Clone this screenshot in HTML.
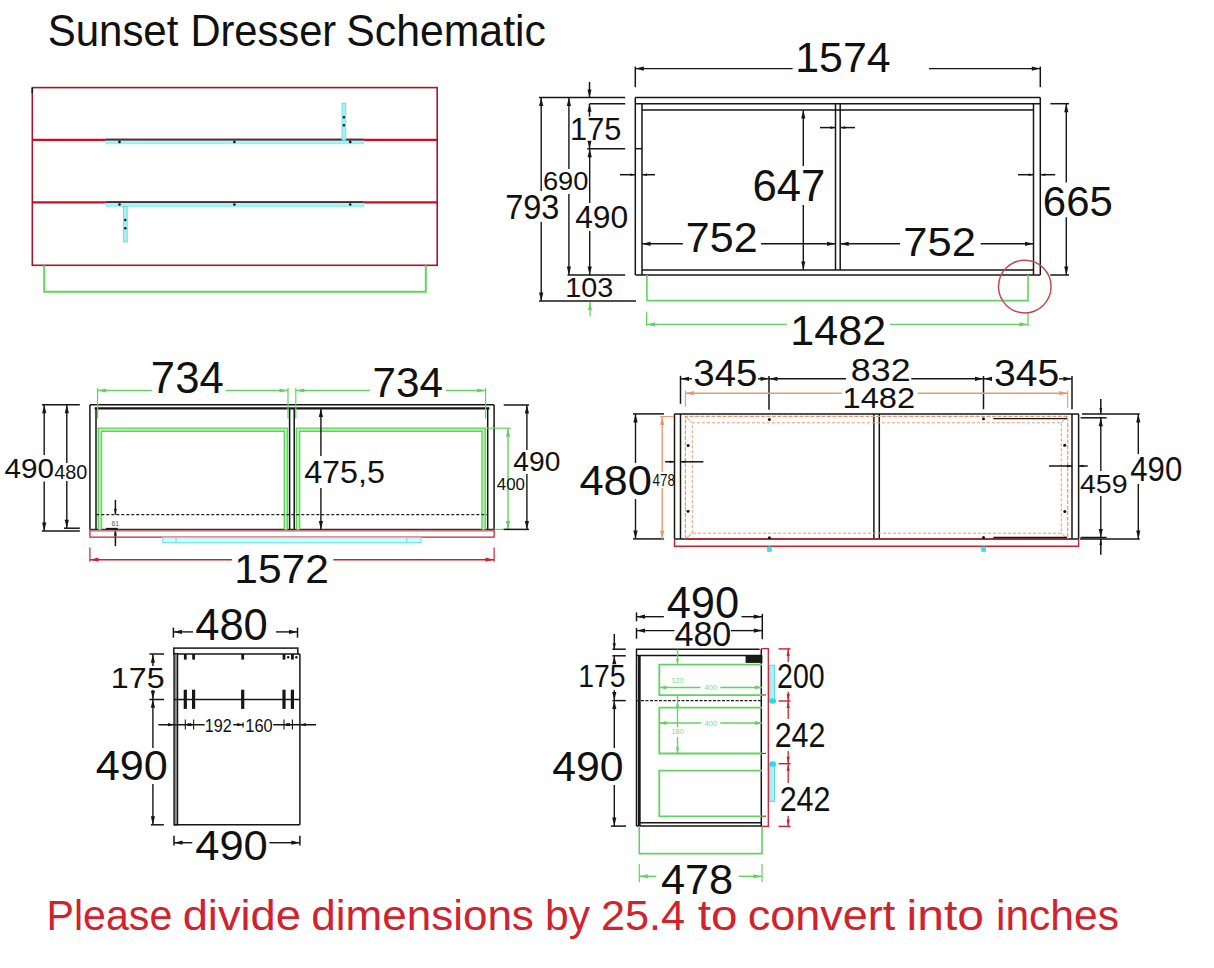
<!DOCTYPE html>
<html><head><meta charset="utf-8"><style>
html,body{margin:0;padding:0;background:#fff;width:1214px;height:968px;overflow:hidden}
svg{display:block}
text{font-family:"Liberation Sans",sans-serif;font-kerning:none}
</style></head><body>
<svg width="1214" height="968" viewBox="0 0 1214 968">
<rect width="1214" height="968" fill="#fff"/>
<text x="47.69" y="46.30" font-size="43.75" textLength="130.71" lengthAdjust="spacingAndGlyphs" fill="#111">Sunset</text>
<text x="190.38" y="46.30" font-size="43.75" textLength="145.81" lengthAdjust="spacingAndGlyphs" fill="#111">Dresser</text>
<text x="346.26" y="46.30" font-size="43.75" textLength="199.67" lengthAdjust="spacingAndGlyphs" fill="#111">Schematic</text>
<text x="46.52" y="930.00" font-size="42.01" textLength="125.80" lengthAdjust="spacingAndGlyphs" fill="#d0232e">Please</text>
<text x="182.70" y="930.00" font-size="42.01" textLength="118.31" lengthAdjust="spacingAndGlyphs" fill="#d0232e">divide</text>
<text x="311.35" y="930.00" font-size="42.01" textLength="222.54" lengthAdjust="spacingAndGlyphs" fill="#d0232e">dimensions</text>
<text x="545.05" y="930.00" font-size="42.01" textLength="45.03" lengthAdjust="spacingAndGlyphs" fill="#d0232e">by</text>
<text x="600.92" y="930.00" font-size="42.01" textLength="84.25" lengthAdjust="spacingAndGlyphs" fill="#d0232e">25.4</text>
<text x="697.78" y="930.00" font-size="42.01" textLength="39.83" lengthAdjust="spacingAndGlyphs" fill="#d0232e">to</text>
<text x="747.79" y="930.00" font-size="42.01" textLength="147.54" lengthAdjust="spacingAndGlyphs" fill="#d0232e">convert</text>
<text x="906.59" y="930.00" font-size="42.01" textLength="77.43" lengthAdjust="spacingAndGlyphs" fill="#d0232e">into</text>
<text x="995.95" y="930.00" font-size="42.01" textLength="122.98" lengthAdjust="spacingAndGlyphs" fill="#d0232e">inches</text>
<rect x="32.3" y="87.6" width="404.9" height="177.7" stroke="#a3172b" stroke-width="1.6" fill="none"/>
<line x1="32.3" y1="139.8" x2="437.2" y2="139.8" stroke="#c80f2a" stroke-width="2.2"/>
<line x1="32.3" y1="202.3" x2="437.2" y2="202.3" stroke="#c80f2a" stroke-width="2.2"/>
<path d="M44.2,265.3 V291.7 H425.8 V265.3" stroke="#62d262" stroke-width="2" fill="none" />
<rect x="106" y="140.2" width="257.6" height="3.6" stroke="#7ee8ee" stroke-width="0.8" fill="#a6f6f6"/>
<line x1="106" y1="139.6" x2="363.6" y2="139.6" stroke="#4a2e30" stroke-width="1.6"/>
<rect x="106" y="202.7" width="257.6" height="3.6" stroke="#7ee8ee" stroke-width="0.8" fill="#a6f6f6"/>
<line x1="106" y1="202.1" x2="363.6" y2="202.1" stroke="#4a2e30" stroke-width="1.6"/>
<rect x="342" y="103.2" width="3.8" height="37" stroke="#5fd8e0" stroke-width="0.8" fill="#a9f1f4"/>
<rect x="123.4" y="206.3" width="3.8" height="35.8" stroke="#5fd8e0" stroke-width="0.8" fill="#a9f1f4"/>
<circle cx="119.5" cy="141.9" r="1.3" fill="#111"/>
<circle cx="234.4" cy="141.9" r="1.3" fill="#111"/>
<circle cx="350.2" cy="141.9" r="1.3" fill="#111"/>
<circle cx="119.5" cy="204.5" r="1.3" fill="#111"/>
<circle cx="234.4" cy="204.5" r="1.3" fill="#111"/>
<circle cx="350.2" cy="204.5" r="1.3" fill="#111"/>
<circle cx="343.9" cy="117.3" r="1.2" fill="#111"/>
<circle cx="343.9" cy="125.3" r="1.2" fill="#111"/>
<circle cx="125.3" cy="220" r="1.2" fill="#111"/>
<circle cx="125.3" cy="228.3" r="1.2" fill="#111"/>
<line x1="32.3" y1="88" x2="32.3" y2="93" stroke="#161616" stroke-width="1.5"/>
<line x1="635.3" y1="97.5" x2="1040.3" y2="97.5" stroke="#161616" stroke-width="1.5"/>
<line x1="635.3" y1="103.7" x2="1040.3" y2="103.7" stroke="#161616" stroke-width="1.5"/>
<line x1="635.3" y1="97.5" x2="635.3" y2="275" stroke="#161616" stroke-width="1.5"/>
<line x1="1040.3" y1="97.5" x2="1040.3" y2="275" stroke="#161616" stroke-width="1.5"/>
<line x1="642" y1="110.1" x2="1033.5" y2="110.1" stroke="#161616" stroke-width="1.5"/>
<line x1="642" y1="103.7" x2="642" y2="275" stroke="#161616" stroke-width="1.5"/>
<line x1="1033.5" y1="103.7" x2="1033.5" y2="275" stroke="#161616" stroke-width="1.5"/>
<line x1="642" y1="270.1" x2="1033.5" y2="270.1" stroke="#161616" stroke-width="1.5"/>
<line x1="635.3" y1="275" x2="1040.3" y2="275" stroke="#161616" stroke-width="1.5"/>
<line x1="835.5" y1="103.7" x2="835.5" y2="270.1" stroke="#161616" stroke-width="1.5"/>
<line x1="840.2" y1="103.7" x2="840.2" y2="270.1" stroke="#161616" stroke-width="1.5"/>
<line x1="635.3" y1="148.7" x2="642" y2="148.7" stroke="#161616" stroke-width="1.5"/>
<line x1="635.3" y1="66.6" x2="635.3" y2="87.2" stroke="#161616" stroke-width="1.5"/>
<line x1="1040.3" y1="66.6" x2="1040.3" y2="87.2" stroke="#161616" stroke-width="1.5"/>
<line x1="635.3" y1="68.6" x2="792.6" y2="68.6" stroke="#161616" stroke-width="1.4"/>
<line x1="929" y1="68.6" x2="1040.3" y2="68.6" stroke="#161616" stroke-width="1.4"/>
<polygon points="635.30,68.60 643.80,66.50 643.80,70.70" fill="#161616"/>
<polygon points="1040.30,68.60 1031.80,66.50 1031.80,70.70" fill="#161616"/>
<text x="795.23" y="72.28" font-size="43.14" textLength="95.42" lengthAdjust="spacingAndGlyphs" fill="#111">1574</text>
<line x1="539" y1="97.5" x2="625.2" y2="97.5" stroke="#161616" stroke-width="1.5"/>
<line x1="589.7" y1="103.7" x2="625.2" y2="103.7" stroke="#161616" stroke-width="1.5"/>
<line x1="587.2" y1="148.7" x2="625.2" y2="148.7" stroke="#161616" stroke-width="1.5"/>
<line x1="567.5" y1="275" x2="625.2" y2="275" stroke="#161616" stroke-width="1.5"/>
<line x1="539" y1="301" x2="636" y2="301" stroke="#161616" stroke-width="1.5"/>
<line x1="541.2" y1="97.5" x2="541.2" y2="191" stroke="#161616" stroke-width="1.4"/>
<line x1="541.2" y1="222" x2="541.2" y2="301" stroke="#161616" stroke-width="1.4"/>
<polygon points="541.20,97.50 539.10,106.00 543.30,106.00" fill="#161616"/>
<polygon points="541.20,301.00 539.10,292.50 543.30,292.50" fill="#161616"/>
<text x="505.13" y="218.66" font-size="35.03" textLength="54.30" lengthAdjust="spacingAndGlyphs" fill="#111">793</text>
<line x1="568.9" y1="97.5" x2="568.9" y2="169" stroke="#161616" stroke-width="1.4"/>
<line x1="568.9" y1="194" x2="568.9" y2="275" stroke="#161616" stroke-width="1.4"/>
<polygon points="568.90,97.50 566.80,106.00 571.00,106.00" fill="#161616"/>
<polygon points="568.90,275.00 566.80,266.50 571.00,266.50" fill="#161616"/>
<text x="542.91" y="190.14" font-size="26.27" textLength="45.55" lengthAdjust="spacingAndGlyphs" fill="#111">690</text>
<line x1="589.5" y1="82" x2="589.5" y2="97.5" stroke="#161616" stroke-width="1.5"/>
<polygon points="589.50,97.50 587.50,89.50 591.50,89.50" fill="#161616"/>
<polygon points="589.50,103.70 587.50,111.70 591.50,111.70" fill="#161616"/>
<line x1="589.5" y1="103.7" x2="589.5" y2="116.6" stroke="#161616" stroke-width="1.5"/>
<line x1="589.5" y1="142.3" x2="589.5" y2="148.7" stroke="#161616" stroke-width="1.5"/>
<polygon points="589.50,148.70 587.50,140.70 591.50,140.70" fill="#161616"/>
<text x="570.06" y="139.80" font-size="30.67" textLength="51.34" lengthAdjust="spacingAndGlyphs" fill="#111">175</text>
<line x1="589.7" y1="148.7" x2="589.7" y2="203" stroke="#161616" stroke-width="1.4"/>
<line x1="589.7" y1="231" x2="589.7" y2="275" stroke="#161616" stroke-width="1.4"/>
<polygon points="589.70,148.70 587.60,157.20 591.80,157.20" fill="#161616"/>
<polygon points="589.70,275.00 587.60,266.50 591.80,266.50" fill="#161616"/>
<text x="575.17" y="227.99" font-size="31.50" textLength="53.07" lengthAdjust="spacingAndGlyphs" fill="#111">490</text>
<text x="565.31" y="296.74" font-size="26.84" textLength="47.95" lengthAdjust="spacingAndGlyphs" fill="#111">103</text>
<line x1="590" y1="302" x2="590" y2="316.6" stroke="#62d262" stroke-width="1.3"/>
<polygon points="590.00,302.00 588.00,310.00 592.00,310.00" fill="#62d262"/>
<line x1="803.3" y1="110.1" x2="803.3" y2="166" stroke="#161616" stroke-width="1.4"/>
<line x1="803.3" y1="205" x2="803.3" y2="270.1" stroke="#161616" stroke-width="1.4"/>
<polygon points="803.30,110.10 801.20,118.60 805.40,118.60" fill="#161616"/>
<polygon points="803.30,270.10 801.20,261.60 805.40,261.60" fill="#161616"/>
<text x="752.48" y="201.27" font-size="43.64" textLength="72.81" lengthAdjust="spacingAndGlyphs" fill="#111">647</text>
<line x1="642" y1="243.8" x2="682.8" y2="243.8" stroke="#161616" stroke-width="1.4"/>
<line x1="761" y1="243.8" x2="835.5" y2="243.8" stroke="#161616" stroke-width="1.4"/>
<polygon points="642.00,243.80 650.50,241.70 650.50,245.90" fill="#161616"/>
<polygon points="835.50,243.80 827.00,241.70 827.00,245.90" fill="#161616"/>
<text x="685.79" y="251.88" font-size="42.80" textLength="71.77" lengthAdjust="spacingAndGlyphs" fill="#111">752</text>
<line x1="840.2" y1="243.8" x2="900" y2="243.8" stroke="#161616" stroke-width="1.4"/>
<line x1="980.8" y1="243.8" x2="1033.5" y2="243.8" stroke="#161616" stroke-width="1.4"/>
<polygon points="840.20,243.80 848.70,241.70 848.70,245.90" fill="#161616"/>
<polygon points="1033.50,243.80 1025.00,241.70 1025.00,245.90" fill="#161616"/>
<text x="903.27" y="255.79" font-size="41.52" textLength="72.62" lengthAdjust="spacingAndGlyphs" fill="#111">752</text>
<line x1="1050.4" y1="103.7" x2="1069" y2="103.7" stroke="#161616" stroke-width="1.5"/>
<line x1="1050.3" y1="275" x2="1069" y2="275" stroke="#161616" stroke-width="1.5"/>
<line x1="1066.3" y1="103.7" x2="1066.3" y2="182.4" stroke="#161616" stroke-width="1.4"/>
<line x1="1066.3" y1="217.2" x2="1066.3" y2="275" stroke="#161616" stroke-width="1.4"/>
<polygon points="1066.30,103.70 1064.20,112.20 1068.40,112.20" fill="#161616"/>
<polygon points="1066.30,275.00 1064.20,266.50 1068.40,266.50" fill="#161616"/>
<text x="1042.87" y="215.59" font-size="41.67" textLength="69.89" lengthAdjust="spacingAndGlyphs" fill="#111">665</text>
<line x1="620" y1="174.7" x2="635.3" y2="174.7" stroke="#161616" stroke-width="1.5"/>
<polygon points="635.30,174.70 630.30,173.40 630.30,176.00" fill="#161616"/>
<line x1="642" y1="174.7" x2="655" y2="174.7" stroke="#161616" stroke-width="1.5"/>
<polygon points="642.00,174.70 647.00,173.40 647.00,176.00" fill="#161616"/>
<line x1="820" y1="127.6" x2="835.5" y2="127.6" stroke="#161616" stroke-width="1.5"/>
<polygon points="835.50,127.60 830.50,126.30 830.50,128.90" fill="#161616"/>
<line x1="840.2" y1="127.6" x2="855" y2="127.6" stroke="#161616" stroke-width="1.5"/>
<polygon points="840.20,127.60 845.20,126.30 845.20,128.90" fill="#161616"/>
<line x1="1018" y1="174.7" x2="1033.5" y2="174.7" stroke="#161616" stroke-width="1.5"/>
<polygon points="1033.50,174.70 1028.50,173.40 1028.50,176.00" fill="#161616"/>
<line x1="1040.3" y1="174.7" x2="1055.2" y2="174.7" stroke="#161616" stroke-width="1.5"/>
<polygon points="1040.30,174.70 1045.30,173.40 1045.30,176.00" fill="#161616"/>
<path d="M646.9,275 V300.6 H1028 V275" stroke="#62d262" stroke-width="1.6" fill="none" />
<line x1="646.6" y1="312" x2="646.6" y2="326" stroke="#62d262" stroke-width="1.3"/>
<line x1="1028" y1="312.6" x2="1028" y2="326" stroke="#62d262" stroke-width="1.3"/>
<line x1="646.6" y1="324.4" x2="787" y2="324.4" stroke="#62d262" stroke-width="1.4"/>
<line x1="890" y1="324.4" x2="1028" y2="324.4" stroke="#62d262" stroke-width="1.4"/>
<polygon points="646.60,324.40 655.10,322.30 655.10,326.50" fill="#62d262"/>
<polygon points="1028.00,324.40 1019.50,322.30 1019.50,326.50" fill="#62d262"/>
<text x="790.21" y="345.08" font-size="43.36" textLength="95.95" lengthAdjust="spacingAndGlyphs" fill="#111">1482</text>
<circle cx="1024.8" cy="286.6" r="26.3" fill="none" stroke="#c04a52" stroke-width="1.5"/>
<line x1="89.9" y1="404.8" x2="494.1" y2="404.8" stroke="#161616" stroke-width="1.5"/>
<line x1="94.6" y1="408.4" x2="489.4" y2="408.4" stroke="#161616" stroke-width="2.2"/>
<line x1="89.9" y1="405" x2="89.9" y2="529.4" stroke="#161616" stroke-width="1.5"/>
<line x1="494.1" y1="405" x2="494.1" y2="529.4" stroke="#161616" stroke-width="1.5"/>
<line x1="487.7" y1="408.6" x2="487.7" y2="529.4" stroke="#161616" stroke-width="1.5"/>
<line x1="289.6" y1="408.6" x2="289.6" y2="529.4" stroke="#161616" stroke-width="1.5"/>
<line x1="294.2" y1="408.6" x2="294.2" y2="529.4" stroke="#161616" stroke-width="1.5"/>
<line x1="89.9" y1="529.4" x2="494.1" y2="529.4" stroke="#3a2a2a" stroke-width="1.5"/>
<line x1="96" y1="408.6" x2="96" y2="529.4" stroke="#161616" stroke-width="1.5"/>
<path d="M99.9,529.4 V429.7 H285.9 V529.4" stroke="#62d262" stroke-width="4.6" fill="none" stroke-linejoin="miter"/>
<path d="M99.9,529.4 V429.7 H285.9 V529.4" stroke="#b8f7b0" stroke-width="1.8" fill="none" stroke-linejoin="miter"/>
<path d="M298,529.4 V429.7 H483.6 V529.4" stroke="#62d262" stroke-width="4.6" fill="none" stroke-linejoin="miter"/>
<path d="M298,529.4 V429.7 H483.6 V529.4" stroke="#b8f7b0" stroke-width="1.8" fill="none" stroke-linejoin="miter"/>
<line x1="96.3" y1="514.7" x2="487" y2="514.7" stroke="#222" stroke-width="1.2" stroke-dasharray="3,2"/>
<line x1="97.6" y1="388" x2="97.6" y2="418.4" stroke="#62d262" stroke-width="1.2"/>
<line x1="288" y1="388" x2="288" y2="418.4" stroke="#62d262" stroke-width="1.2"/>
<line x1="97.6" y1="390.5" x2="152" y2="390.5" stroke="#62d262" stroke-width="1.4"/>
<line x1="226" y1="390.5" x2="288" y2="390.5" stroke="#62d262" stroke-width="1.4"/>
<polygon points="97.60,390.50 106.10,388.40 106.10,392.60" fill="#62d262"/>
<polygon points="288.00,390.50 279.50,388.40 279.50,392.60" fill="#62d262"/>
<text x="150.86" y="393.47" font-size="43.93" textLength="72.82" lengthAdjust="spacingAndGlyphs" fill="#111">734</text>
<line x1="295.8" y1="388" x2="295.8" y2="418.4" stroke="#62d262" stroke-width="1.2"/>
<line x1="485.6" y1="388" x2="485.6" y2="418.4" stroke="#62d262" stroke-width="1.2"/>
<line x1="295.8" y1="390.5" x2="370" y2="390.5" stroke="#62d262" stroke-width="1.4"/>
<line x1="446" y1="390.5" x2="485.6" y2="390.5" stroke="#62d262" stroke-width="1.4"/>
<polygon points="295.80,390.50 304.30,388.40 304.30,392.60" fill="#62d262"/>
<polygon points="485.60,390.50 477.10,388.40 477.10,392.60" fill="#62d262"/>
<text x="372.43" y="397.39" font-size="42.09" textLength="70.50" lengthAdjust="spacingAndGlyphs" fill="#111">734</text>
<line x1="41.9" y1="404.8" x2="79.8" y2="404.8" stroke="#161616" stroke-width="1.5"/>
<line x1="41.9" y1="531" x2="79.8" y2="531" stroke="#161616" stroke-width="1.5"/>
<line x1="64" y1="528.2" x2="79.8" y2="528.2" stroke="#161616" stroke-width="1.5"/>
<line x1="44.2" y1="404.8" x2="44.2" y2="455" stroke="#161616" stroke-width="1.4"/>
<line x1="44.2" y1="481.5" x2="44.2" y2="531" stroke="#161616" stroke-width="1.4"/>
<polygon points="44.20,404.80 42.10,413.30 46.30,413.30" fill="#161616"/>
<polygon points="44.20,531.00 42.10,522.50 46.30,522.50" fill="#161616"/>
<text x="4.52" y="478.33" font-size="27.68" textLength="49.54" lengthAdjust="spacingAndGlyphs" fill="#111">490</text>
<line x1="66.8" y1="404.8" x2="66.8" y2="463" stroke="#161616" stroke-width="1.4"/>
<line x1="66.8" y1="481" x2="66.8" y2="528.2" stroke="#161616" stroke-width="1.4"/>
<polygon points="66.80,404.80 64.70,413.30 68.90,413.30" fill="#161616"/>
<polygon points="66.80,528.20 64.70,519.70 68.90,519.70" fill="#161616"/>
<text x="54.25" y="478.91" font-size="19.35" textLength="33.03" lengthAdjust="spacingAndGlyphs" fill="#111">480</text>
<line x1="320.9" y1="408.6" x2="320.9" y2="456" stroke="#161616" stroke-width="1.4"/>
<line x1="320.9" y1="488" x2="320.9" y2="529.4" stroke="#161616" stroke-width="1.4"/>
<polygon points="320.90,408.60 318.80,417.10 323.00,417.10" fill="#161616"/>
<polygon points="320.90,529.40 318.80,520.90 323.00,520.90" fill="#161616"/>
<text x="304.16" y="482.69" font-size="31.53" textLength="80.80" lengthAdjust="spacingAndGlyphs" fill="#111">475,5</text>
<line x1="486.4" y1="428.2" x2="510.6" y2="428.2" stroke="#62d262" stroke-width="1.2"/>
<line x1="494.1" y1="529.4" x2="510.6" y2="529.4" stroke="#62d262" stroke-width="1.2"/>
<line x1="508" y1="428.2" x2="508" y2="529.4" stroke="#62d262" stroke-width="1.4"/>
<polygon points="508.00,428.20 505.90,436.70 510.10,436.70" fill="#62d262"/>
<polygon points="508.00,529.40 505.90,520.90 510.10,520.90" fill="#62d262"/>
<text x="496.81" y="490.04" font-size="16.81" textLength="28.15" lengthAdjust="spacingAndGlyphs" fill="#111">400</text>
<line x1="503.7" y1="405" x2="529" y2="405" stroke="#161616" stroke-width="1.5"/>
<line x1="503.7" y1="529.4" x2="529" y2="529.4" stroke="#161616" stroke-width="1.5"/>
<line x1="526.9" y1="405" x2="526.9" y2="450" stroke="#161616" stroke-width="1.4"/>
<line x1="526.9" y1="474" x2="526.9" y2="529.4" stroke="#161616" stroke-width="1.4"/>
<polygon points="526.90,405.00 524.80,413.50 529.00,413.50" fill="#161616"/>
<polygon points="526.90,529.40 524.80,520.90 529.00,520.90" fill="#161616"/>
<text x="513.35" y="471.13" font-size="27.40" textLength="46.94" lengthAdjust="spacingAndGlyphs" fill="#111">490</text>
<line x1="115.4" y1="499.8" x2="115.4" y2="514.7" stroke="#161616" stroke-width="1.5"/>
<polygon points="115.40,514.70 114.00,508.70 116.80,508.70" fill="#161616"/>
<line x1="115.4" y1="529.4" x2="115.4" y2="546.2" stroke="#161616" stroke-width="1.5"/>
<polygon points="115.40,529.40 114.00,535.40 116.80,535.40" fill="#161616"/>
<line x1="106" y1="528.6" x2="117.8" y2="528.6" stroke="#161616" stroke-width="1.5"/>
<text x="111.55" y="525.73" font-size="6.78" textLength="7.58" lengthAdjust="spacingAndGlyphs" fill="#555">61</text>
<path d="M89.9,529.4 V537.2 H494.1 V529.4" stroke="#c42434" stroke-width="1.3" fill="none" />
<line x1="89.9" y1="547.5" x2="89.9" y2="561.7" stroke="#c42434" stroke-width="1.2"/>
<line x1="494.1" y1="547.5" x2="494.1" y2="561.7" stroke="#c42434" stroke-width="1.2"/>
<line x1="89.9" y1="559.7" x2="232" y2="559.7" stroke="#c42434" stroke-width="1.4"/>
<line x1="333.3" y1="559.7" x2="494.1" y2="559.7" stroke="#c42434" stroke-width="1.4"/>
<polygon points="89.90,559.70 98.40,557.60 98.40,561.80" fill="#c42434"/>
<polygon points="494.10,559.70 485.60,557.60 485.60,561.80" fill="#c42434"/>
<text x="234.26" y="583.31" font-size="40.11" textLength="94.68" lengthAdjust="spacingAndGlyphs" fill="#111">1572</text>
<line x1="89.9" y1="530.8" x2="494.1" y2="530.8" stroke="#c0606a" stroke-width="1.3"/>
<rect x="162.7" y="537.6" width="258.3" height="5" stroke="#72e4ea" stroke-width="1.2" fill="#d8fafa"/>
<line x1="176" y1="537.4" x2="176" y2="542" stroke="#5fd8e0" stroke-width="0.9"/>
<line x1="406.8" y1="537.4" x2="406.8" y2="542" stroke="#5fd8e0" stroke-width="0.9"/>
<line x1="674.5" y1="413.9" x2="1078.6" y2="413.9" stroke="#161616" stroke-width="1.5"/>
<line x1="674.5" y1="538.9" x2="1078.6" y2="538.9" stroke="#161616" stroke-width="1.5"/>
<line x1="674.5" y1="413.9" x2="674.5" y2="538.9" stroke="#161616" stroke-width="1.5"/>
<line x1="1078.6" y1="413.9" x2="1078.6" y2="538.9" stroke="#161616" stroke-width="1.5"/>
<line x1="680.5" y1="413.9" x2="680.5" y2="538.9" stroke="#161616" stroke-width="1.5"/>
<line x1="1072" y1="413.9" x2="1072" y2="538.9" stroke="#161616" stroke-width="1.5"/>
<line x1="873.9" y1="413.9" x2="873.9" y2="538.9" stroke="#161616" stroke-width="1.5"/>
<line x1="879.3" y1="413.9" x2="879.3" y2="538.9" stroke="#161616" stroke-width="1.5"/>
<path d="M674.5,538.9 V546.2 H1078.6 V538.9" stroke="#c42434" stroke-width="1.4" fill="none" />
<path d="M685.4,538.9 V416.4 H1067.7 V538.9" stroke="#e49a70" stroke-width="1.2" fill="none" stroke-dasharray="4,1.5"/>
<path d="M692.3,533.2 V422.8 H1061.3 V533.2 H692.3" stroke="#e49a70" stroke-width="1" fill="none" stroke-dasharray="3,2"/>
<path d="M685.4,416.4 L692.3,422.8 M1067.7,416.4 L1061.3,422.8 M685.4,538.9 L692.3,533.2 M1067.7,538.9 L1061.3,533.2" stroke="#e49a70" stroke-width="1" fill="none" />
<line x1="685.4" y1="538.9" x2="1067.7" y2="538.9" stroke="#c42434" stroke-width="1.2"/>
<circle cx="769.4" cy="419.6" r="1.5" fill="#111"/>
<circle cx="769.4" cy="537.7" r="1.5" fill="#111"/>
<circle cx="688.1" cy="445.5" r="1.5" fill="#111"/>
<circle cx="688.1" cy="511.2" r="1.5" fill="#111"/>
<circle cx="983.5" cy="418.7" r="1.5" fill="#111"/>
<circle cx="983.5" cy="537.5" r="1.5" fill="#111"/>
<circle cx="1064.8" cy="445.2" r="1.5" fill="#111"/>
<circle cx="1064.8" cy="511.5" r="1.5" fill="#111"/>
<line x1="993.3" y1="418.7" x2="1067" y2="418.7" stroke="#161616" stroke-width="1.3"/>
<line x1="993.3" y1="537.5" x2="1067" y2="537.5" stroke="#161616" stroke-width="1.3"/>
<rect x="766.9" y="546.5" width="5" height="5.5" rx="1.5" fill="#3fe0ef"/>
<rect x="981.0" y="546.5" width="5" height="5.5" rx="1.5" fill="#3fe0ef"/>
<line x1="680.5" y1="375.8" x2="680.5" y2="403.8" stroke="#161616" stroke-width="1.5"/>
<line x1="769" y1="376" x2="769" y2="409.7" stroke="#161616" stroke-width="1.5"/>
<line x1="983.5" y1="376" x2="983.5" y2="409.2" stroke="#161616" stroke-width="1.5"/>
<line x1="1072" y1="376" x2="1072" y2="409.2" stroke="#161616" stroke-width="1.5"/>
<line x1="680.5" y1="378.8" x2="692" y2="378.8" stroke="#161616" stroke-width="1.4"/>
<line x1="758" y1="378.8" x2="769" y2="378.8" stroke="#161616" stroke-width="1.4"/>
<polygon points="680.50,378.80 689.00,376.70 689.00,380.90" fill="#161616"/>
<polygon points="769.00,378.80 760.50,376.70 760.50,380.90" fill="#161616"/>
<text x="693.34" y="386.14" font-size="37.01" textLength="64.08" lengthAdjust="spacingAndGlyphs" fill="#111">345</text>
<line x1="769" y1="378.8" x2="846" y2="378.8" stroke="#161616" stroke-width="1.4"/>
<line x1="911.3" y1="378.8" x2="983.5" y2="378.8" stroke="#161616" stroke-width="1.4"/>
<polygon points="769.00,378.80 777.50,376.70 777.50,380.90" fill="#161616"/>
<polygon points="983.50,378.80 975.00,376.70 975.00,380.90" fill="#161616"/>
<text x="850.84" y="381.00" font-size="31.07" textLength="59.76" lengthAdjust="spacingAndGlyphs" fill="#111">832</text>
<line x1="983.5" y1="378.8" x2="992" y2="378.8" stroke="#161616" stroke-width="1.4"/>
<line x1="1059" y1="378.8" x2="1072" y2="378.8" stroke="#161616" stroke-width="1.4"/>
<polygon points="983.50,378.80 992.00,376.70 992.00,380.90" fill="#161616"/>
<polygon points="1072.00,378.80 1063.50,376.70 1063.50,380.90" fill="#161616"/>
<text x="994.11" y="385.74" font-size="36.58" textLength="65.13" lengthAdjust="spacingAndGlyphs" fill="#111">345</text>
<line x1="685.4" y1="390.7" x2="685.4" y2="406.7" stroke="#e49a70" stroke-width="1.1"/>
<line x1="1067.7" y1="390.7" x2="1067.7" y2="407.7" stroke="#e49a70" stroke-width="1.1"/>
<line x1="685.4" y1="393.2" x2="841.7" y2="393.2" stroke="#e49a70" stroke-width="1.4"/>
<line x1="917.8" y1="393.2" x2="1067.7" y2="393.2" stroke="#e49a70" stroke-width="1.4"/>
<polygon points="685.40,393.20 693.90,391.10 693.90,395.30" fill="#e49a70"/>
<polygon points="1067.70,393.20 1059.20,391.10 1059.20,395.30" fill="#e49a70"/>
<text x="842.51" y="407.80" font-size="30.23" textLength="72.63" lengthAdjust="spacingAndGlyphs" fill="#111">1482</text>
<line x1="633" y1="413.9" x2="663.9" y2="413.9" stroke="#161616" stroke-width="1.5"/>
<line x1="633" y1="538.9" x2="663.9" y2="538.9" stroke="#161616" stroke-width="1.5"/>
<line x1="635.5" y1="413.9" x2="635.5" y2="463" stroke="#161616" stroke-width="1.4"/>
<line x1="635.5" y1="499" x2="635.5" y2="538.9" stroke="#161616" stroke-width="1.4"/>
<polygon points="635.50,413.90 633.40,422.40 637.60,422.40" fill="#161616"/>
<polygon points="635.50,538.90 633.40,530.40 637.60,530.40" fill="#161616"/>
<text x="579.40" y="495.29" font-size="41.95" textLength="72.60" lengthAdjust="spacingAndGlyphs" fill="#111">480</text>
<line x1="660" y1="416.6" x2="673.8" y2="416.6" stroke="#e49a70" stroke-width="1.1"/>
<line x1="662.2" y1="416.6" x2="662.2" y2="472" stroke="#e49a70" stroke-width="1.4"/>
<line x1="662.2" y1="488" x2="662.2" y2="538.9" stroke="#e49a70" stroke-width="1.4"/>
<polygon points="662.20,416.60 660.10,425.10 664.30,425.10" fill="#e49a70"/>
<polygon points="662.20,538.90 660.10,530.40 664.30,530.40" fill="#e49a70"/>
<text x="652.49" y="486.14" font-size="16.38" textLength="22.39" lengthAdjust="spacingAndGlyphs" fill="#111">478</text>
<line x1="665" y1="461.8" x2="674.5" y2="461.8" stroke="#161616" stroke-width="1.5"/>
<polygon points="674.50,461.80 669.50,460.50 669.50,463.10" fill="#161616"/>
<line x1="680.5" y1="461.8" x2="703.4" y2="461.8" stroke="#161616" stroke-width="1.5"/>
<polygon points="680.50,461.80 685.50,460.50 685.50,463.10" fill="#161616"/>
<line x1="1049" y1="466" x2="1072" y2="466" stroke="#161616" stroke-width="1.5"/>
<polygon points="1072.00,466.00 1067.00,464.70 1067.00,467.30" fill="#161616"/>
<line x1="1078.6" y1="466" x2="1087.8" y2="466" stroke="#161616" stroke-width="1.5"/>
<polygon points="1078.60,466.00 1083.60,464.70 1083.60,467.30" fill="#161616"/>
<line x1="1082" y1="413.9" x2="1139.7" y2="413.9" stroke="#161616" stroke-width="1.5"/>
<line x1="1080.6" y1="417.8" x2="1106.6" y2="417.8" stroke="#161616" stroke-width="1.5"/>
<line x1="1080" y1="538.9" x2="1139.7" y2="538.9" stroke="#161616" stroke-width="1.5"/>
<line x1="1080.6" y1="537.5" x2="1106.6" y2="537.5" stroke="#161616" stroke-width="1.5"/>
<line x1="1100.8" y1="417.8" x2="1100.8" y2="471" stroke="#161616" stroke-width="1.4"/>
<line x1="1100.8" y1="496" x2="1100.8" y2="537.5" stroke="#161616" stroke-width="1.4"/>
<polygon points="1100.80,417.80 1098.70,426.30 1102.90,426.30" fill="#161616"/>
<polygon points="1100.80,537.50 1098.70,529.00 1102.90,529.00" fill="#161616"/>
<line x1="1100.8" y1="399" x2="1100.8" y2="413.9" stroke="#161616" stroke-width="1.5"/>
<polygon points="1100.80,413.90 1099.40,407.90 1102.20,407.90" fill="#161616"/>
<line x1="1100.8" y1="538.9" x2="1100.8" y2="554.8" stroke="#161616" stroke-width="1.5"/>
<polygon points="1100.80,538.90 1099.40,544.90 1102.20,544.90" fill="#161616"/>
<text x="1079.95" y="492.54" font-size="26.55" textLength="47.61" lengthAdjust="spacingAndGlyphs" fill="#111">459</text>
<line x1="1138.3" y1="413.9" x2="1138.3" y2="454" stroke="#161616" stroke-width="1.4"/>
<line x1="1138.3" y1="484" x2="1138.3" y2="538.9" stroke="#161616" stroke-width="1.4"/>
<polygon points="1138.30,413.90 1136.20,422.40 1140.40,422.40" fill="#161616"/>
<polygon points="1138.30,538.90 1136.20,530.40 1140.40,530.40" fill="#161616"/>
<text x="1130.29" y="480.96" font-size="34.60" textLength="51.93" lengthAdjust="spacingAndGlyphs" fill="#111">490</text>
<rect x="173.8" y="648.1" width="124" height="5.9" stroke="#161616" stroke-width="1.5" fill="none"/>
<rect x="174" y="653.6" width="3.6" height="171.2" stroke="#161616" stroke-width="1.3" fill="#8a8a8a"/>
<line x1="299.9" y1="654" x2="299.9" y2="824.8" stroke="#161616" stroke-width="1.5"/>
<line x1="174" y1="824.8" x2="299.9" y2="824.8" stroke="#161616" stroke-width="1.5"/>
<line x1="297.8" y1="654" x2="299.9" y2="654" stroke="#161616" stroke-width="1.5"/>
<line x1="174" y1="699.5" x2="299.9" y2="699.5" stroke="#161616" stroke-width="1.5"/>
<line x1="185.3" y1="689.7" x2="185.3" y2="708.9" stroke="#161616" stroke-width="3.2"/>
<line x1="193.6" y1="689.7" x2="193.6" y2="708.9" stroke="#161616" stroke-width="3.2"/>
<line x1="242.7" y1="689.7" x2="242.7" y2="708.9" stroke="#161616" stroke-width="3.2"/>
<line x1="284" y1="689.7" x2="284" y2="708.9" stroke="#161616" stroke-width="3.2"/>
<line x1="292.4" y1="689.7" x2="292.4" y2="708.9" stroke="#161616" stroke-width="3.2"/>
<line x1="185.3" y1="654" x2="185.3" y2="659.6" stroke="#161616" stroke-width="2.8"/>
<line x1="193.6" y1="654" x2="193.6" y2="659.6" stroke="#161616" stroke-width="2.8"/>
<line x1="242.7" y1="654" x2="242.7" y2="659.6" stroke="#161616" stroke-width="2.8"/>
<line x1="284" y1="654" x2="284" y2="659.6" stroke="#161616" stroke-width="2.8"/>
<line x1="292.4" y1="654" x2="292.4" y2="659.6" stroke="#161616" stroke-width="2.8"/>
<circle cx="288.2" cy="657.2" r="1.2" fill="#111"/>
<circle cx="296.4" cy="657.2" r="1.2" fill="#111"/>
<line x1="173.4" y1="627.6" x2="173.4" y2="637.7" stroke="#161616" stroke-width="1.5"/>
<line x1="297.5" y1="627.6" x2="297.5" y2="637.7" stroke="#161616" stroke-width="1.5"/>
<line x1="173.4" y1="631.9" x2="193" y2="631.9" stroke="#161616" stroke-width="1.4"/>
<line x1="276" y1="631.9" x2="297.5" y2="631.9" stroke="#161616" stroke-width="1.4"/>
<polygon points="173.40,631.90 181.90,629.80 181.90,634.00" fill="#161616"/>
<polygon points="297.50,631.90 289.00,629.80 289.00,634.00" fill="#161616"/>
<text x="195.20" y="640.27" font-size="43.64" textLength="72.60" lengthAdjust="spacingAndGlyphs" fill="#111">480</text>
<line x1="174" y1="835.7" x2="174" y2="845.6" stroke="#161616" stroke-width="1.5"/>
<line x1="299.9" y1="835.7" x2="299.9" y2="845.6" stroke="#161616" stroke-width="1.5"/>
<line x1="174" y1="842.7" x2="192.3" y2="842.7" stroke="#161616" stroke-width="1.4"/>
<line x1="269.4" y1="842.7" x2="299.9" y2="842.7" stroke="#161616" stroke-width="1.4"/>
<polygon points="174.00,842.70 182.50,840.60 182.50,844.80" fill="#161616"/>
<polygon points="299.90,842.70 291.40,840.60 291.40,844.80" fill="#161616"/>
<text x="195.20" y="859.58" font-size="43.08" textLength="72.60" lengthAdjust="spacingAndGlyphs" fill="#111">490</text>
<line x1="149.4" y1="654" x2="164" y2="654" stroke="#161616" stroke-width="1.5"/>
<line x1="149.4" y1="699.5" x2="164" y2="699.5" stroke="#161616" stroke-width="1.5"/>
<line x1="150.9" y1="824.8" x2="163.9" y2="824.8" stroke="#161616" stroke-width="1.5"/>
<line x1="152.9" y1="654.2" x2="152.9" y2="666" stroke="#161616" stroke-width="1.4"/>
<line x1="152.9" y1="690" x2="152.9" y2="699.3" stroke="#161616" stroke-width="1.4"/>
<polygon points="152.90,654.20 150.80,662.70 155.00,662.70" fill="#161616"/>
<polygon points="152.90,699.30 150.80,690.80 155.00,690.80" fill="#161616"/>
<text x="110.84" y="688.01" font-size="29.81" textLength="53.81" lengthAdjust="spacingAndGlyphs" fill="#111">175</text>
<line x1="152.9" y1="699.3" x2="152.9" y2="748" stroke="#161616" stroke-width="1.4"/>
<line x1="152.9" y1="784" x2="152.9" y2="824.8" stroke="#161616" stroke-width="1.4"/>
<polygon points="152.90,699.30 150.80,707.80 155.00,707.80" fill="#161616"/>
<polygon points="152.90,824.80 150.80,816.30 155.00,816.30" fill="#161616"/>
<text x="95.81" y="780.48" font-size="42.94" textLength="72.08" lengthAdjust="spacingAndGlyphs" fill="#111">490</text>
<line x1="158.4" y1="724.7" x2="204.6" y2="724.7" stroke="#161616" stroke-width="1.5"/>
<line x1="233.3" y1="724.7" x2="243.1" y2="724.7" stroke="#161616" stroke-width="1.5"/>
<line x1="273.2" y1="724.7" x2="316" y2="724.7" stroke="#161616" stroke-width="1.5"/>
<line x1="185.3" y1="719.5" x2="185.3" y2="729.5" stroke="#161616" stroke-width="1.1"/>
<line x1="193.6" y1="719.5" x2="193.6" y2="729.5" stroke="#161616" stroke-width="1.1"/>
<line x1="284" y1="719.5" x2="284" y2="729.5" stroke="#161616" stroke-width="1.1"/>
<line x1="292.4" y1="719.5" x2="292.4" y2="729.5" stroke="#161616" stroke-width="1.1"/>
<polygon points="174.00,724.70 168.00,723.10 168.00,726.30" fill="#161616"/>
<polygon points="185.30,724.70 191.30,723.10 191.30,726.30" fill="#161616"/>
<polygon points="193.60,724.70 187.60,723.10 187.60,726.30" fill="#161616"/>
<polygon points="243.10,724.70 237.10,723.10 237.10,726.30" fill="#161616"/>
<polygon points="284.00,724.70 290.00,723.10 290.00,726.30" fill="#161616"/>
<polygon points="292.40,724.70 286.40,723.10 286.40,726.30" fill="#161616"/>
<polygon points="299.90,724.70 305.90,723.10 305.90,726.30" fill="#161616"/>
<line x1="243.1" y1="722.6" x2="243.1" y2="727.5" stroke="#161616" stroke-width="1.2"/>
<text x="204.77" y="731.52" font-size="18.36" textLength="27.05" lengthAdjust="spacingAndGlyphs" fill="#111">192</text>
<text x="245.35" y="731.52" font-size="18.64" textLength="27.39" lengthAdjust="spacingAndGlyphs" fill="#111">160</text>
<line x1="636.5" y1="649.2" x2="759.6" y2="649.2" stroke="#161616" stroke-width="1.5"/>
<line x1="636.5" y1="655.6" x2="762" y2="655.6" stroke="#161616" stroke-width="1.5"/>
<line x1="636.5" y1="648.7" x2="636.5" y2="826.1" stroke="#161616" stroke-width="1.5"/>
<line x1="761.3" y1="648.7" x2="761.3" y2="826.1" stroke="#161616" stroke-width="1.5"/>
<line x1="639.3" y1="655.3" x2="639.3" y2="826.1" stroke="#161616" stroke-width="2.8"/>
<line x1="636.5" y1="826.1" x2="761.3" y2="826.1" stroke="#161616" stroke-width="1.5"/>
<line x1="639.3" y1="822.8" x2="761.3" y2="822.8" stroke="#161616" stroke-width="1.5"/>
<line x1="636.5" y1="700.6" x2="761.3" y2="700.6" stroke="#222" stroke-width="1.3" stroke-dasharray="3,1.5"/>
<rect x="746" y="656" width="16" height="6.5" stroke="#161616" stroke-width="0.8" fill="#1a1a1a"/>
<path d="M762,664.6 H659.3 V695.1 H762" stroke="#62d262" stroke-width="1.8" fill="none" />
<path d="M762,707.7 H659.3 V753.5 H762" stroke="#62d262" stroke-width="1.8" fill="none" />
<path d="M762,770.7 H659.3 V816.4 H762" stroke="#62d262" stroke-width="1.8" fill="none" />
<line x1="677.5" y1="649.4" x2="677.5" y2="664.6" stroke="#62d262" stroke-width="1.3"/>
<polygon points="677.50,664.60 675.90,658.60 679.10,658.60" fill="#62d262"/>
<line x1="677.5" y1="695.1" x2="677.5" y2="727" stroke="#62d262" stroke-width="1.3"/>
<line x1="677.5" y1="737" x2="677.5" y2="753.5" stroke="#62d262" stroke-width="1.3"/>
<polygon points="677.50,701.50 675.90,707.50 679.10,707.50" fill="#62d262"/>
<polygon points="677.50,753.50 675.90,747.50 679.10,747.50" fill="#62d262"/>
<line x1="659.3" y1="687.4" x2="700.5" y2="687.4" stroke="#62d262" stroke-width="1.5"/>
<line x1="720.3" y1="687.4" x2="762" y2="687.4" stroke="#62d262" stroke-width="1.5"/>
<polygon points="659.30,687.40 666.30,685.50 666.30,689.30" fill="#62d262"/>
<polygon points="762.00,687.40 755.00,685.50 755.00,689.30" fill="#62d262"/>
<line x1="659.3" y1="723" x2="701" y2="723" stroke="#62d262" stroke-width="1.5"/>
<line x1="720.3" y1="723" x2="762" y2="723" stroke="#62d262" stroke-width="1.5"/>
<polygon points="659.30,723.00 666.30,721.10 666.30,724.90" fill="#62d262"/>
<polygon points="762.00,723.00 755.00,721.10 755.00,724.90" fill="#62d262"/>
<text x="704.62" y="689.73" font-size="6.78" textLength="12.77" lengthAdjust="spacingAndGlyphs" fill="#7fd87f">400</text>
<text x="704.62" y="725.63" font-size="6.78" textLength="12.77" lengthAdjust="spacingAndGlyphs" fill="#7fd87f">400</text>
<text x="671.55" y="682.73" font-size="7.49" textLength="12.14" lengthAdjust="spacingAndGlyphs" fill="#7fd87f">120</text>
<text x="671.55" y="733.63" font-size="6.78" textLength="12.14" lengthAdjust="spacingAndGlyphs" fill="#7fd87f">180</text>
<path d="M639.3,826.1 V853.6 H762 V826.1" stroke="#62d262" stroke-width="1.6" fill="none" />
<line x1="639.3" y1="864" x2="639.3" y2="882.3" stroke="#62d262" stroke-width="1.2"/>
<line x1="762" y1="864" x2="762" y2="882.3" stroke="#62d262" stroke-width="1.2"/>
<line x1="639.3" y1="876.3" x2="656.3" y2="876.3" stroke="#62d262" stroke-width="1.4"/>
<line x1="738.9" y1="876.3" x2="762" y2="876.3" stroke="#62d262" stroke-width="1.4"/>
<polygon points="639.30,876.30 647.80,874.20 647.80,878.40" fill="#62d262"/>
<polygon points="762.00,876.30 753.50,874.20 753.50,878.40" fill="#62d262"/>
<text x="660.91" y="893.59" font-size="41.81" textLength="72.28" lengthAdjust="spacingAndGlyphs" fill="#111">478</text>
<line x1="636.5" y1="612.4" x2="636.5" y2="621.3" stroke="#161616" stroke-width="1.5"/>
<line x1="762.3" y1="613.8" x2="762.3" y2="639.2" stroke="#161616" stroke-width="1.5"/>
<line x1="636.5" y1="616.7" x2="663.9" y2="616.7" stroke="#161616" stroke-width="1.4"/>
<line x1="741.5" y1="616.7" x2="762.3" y2="616.7" stroke="#161616" stroke-width="1.4"/>
<polygon points="636.50,616.70 645.00,614.60 645.00,618.80" fill="#161616"/>
<polygon points="762.30,616.70 753.80,614.60 753.80,618.80" fill="#161616"/>
<text x="666.70" y="617.97" font-size="43.93" textLength="72.49" lengthAdjust="spacingAndGlyphs" fill="#111">490</text>
<line x1="636.5" y1="627.9" x2="636.5" y2="638.8" stroke="#161616" stroke-width="1.5"/>
<line x1="636.5" y1="630.6" x2="674.5" y2="630.6" stroke="#161616" stroke-width="1.4"/>
<line x1="731" y1="630.6" x2="762.3" y2="630.6" stroke="#161616" stroke-width="1.4"/>
<polygon points="636.50,630.60 645.00,628.50 645.00,632.70" fill="#161616"/>
<polygon points="762.30,630.60 753.80,628.50 753.80,632.70" fill="#161616"/>
<text x="674.42" y="646.37" font-size="34.18" textLength="56.92" lengthAdjust="spacingAndGlyphs" fill="#111">480</text>
<line x1="612.4" y1="649.2" x2="625.8" y2="649.2" stroke="#161616" stroke-width="1.5"/>
<line x1="612.4" y1="655.8" x2="625.8" y2="655.8" stroke="#161616" stroke-width="1.5"/>
<line x1="612.4" y1="700.6" x2="625.8" y2="700.6" stroke="#161616" stroke-width="1.5"/>
<line x1="611" y1="826.1" x2="626" y2="826.1" stroke="#161616" stroke-width="1.5"/>
<line x1="614.3" y1="634" x2="614.3" y2="649.2" stroke="#161616" stroke-width="1.5"/>
<polygon points="614.30,649.20 612.70,643.20 615.90,643.20" fill="#161616"/>
<line x1="614.3" y1="655.8" x2="614.3" y2="662.4" stroke="#161616" stroke-width="1.4"/>
<line x1="614.3" y1="690.2" x2="614.3" y2="700.6" stroke="#161616" stroke-width="1.4"/>
<polygon points="614.30,655.80 612.20,664.30 616.40,664.30" fill="#161616"/>
<polygon points="614.30,700.60 612.20,692.10 616.40,692.10" fill="#161616"/>
<text x="578.14" y="687.39" font-size="31.82" textLength="47.25" lengthAdjust="spacingAndGlyphs" fill="#111">175</text>
<line x1="614.3" y1="700.6" x2="614.3" y2="748" stroke="#161616" stroke-width="1.4"/>
<line x1="614.3" y1="785" x2="614.3" y2="826.1" stroke="#161616" stroke-width="1.4"/>
<polygon points="614.30,700.60 612.20,709.10 616.40,709.10" fill="#161616"/>
<polygon points="614.30,826.10 612.20,817.60 616.40,817.60" fill="#161616"/>
<text x="552.22" y="781.09" font-size="41.95" textLength="71.35" lengthAdjust="spacingAndGlyphs" fill="#111">490</text>
<path d="M761.3,648.7 H768.3 V826.4 H761.3" stroke="#c42434" stroke-width="1.3" fill="none" />
<line x1="788.2" y1="648.7" x2="788.2" y2="662" stroke="#c42434" stroke-width="1.3"/>
<line x1="788.2" y1="691.7" x2="788.2" y2="719" stroke="#c42434" stroke-width="1.3"/>
<line x1="788.2" y1="751" x2="788.2" y2="783" stroke="#c42434" stroke-width="1.3"/>
<line x1="788.2" y1="815.8" x2="788.2" y2="826.1" stroke="#c42434" stroke-width="1.3"/>
<line x1="778.5" y1="648.9" x2="790.6" y2="648.9" stroke="#c42434" stroke-width="1.4"/>
<line x1="778.5" y1="701" x2="790.6" y2="701" stroke="#c42434" stroke-width="1.4"/>
<line x1="778.5" y1="763.7" x2="790.6" y2="763.7" stroke="#c42434" stroke-width="1.4"/>
<line x1="778.5" y1="826.4" x2="790.6" y2="826.4" stroke="#c42434" stroke-width="1.4"/>
<polygon points="788.20,648.90 786.60,655.90 789.80,655.90" fill="#c42434"/>
<polygon points="788.20,701.00 786.60,694.00 789.80,694.00" fill="#c42434"/>
<polygon points="788.20,701.00 786.60,708.00 789.80,708.00" fill="#c42434"/>
<polygon points="788.20,763.70 786.60,756.70 789.80,756.70" fill="#c42434"/>
<polygon points="788.20,763.70 786.60,770.70 789.80,770.70" fill="#c42434"/>
<polygon points="788.20,826.40 786.60,819.40 789.80,819.40" fill="#c42434"/>
<line x1="761.3" y1="695" x2="766" y2="695" stroke="#c42434" stroke-width="1.2"/>
<line x1="761.3" y1="753.4" x2="766" y2="753.4" stroke="#c42434" stroke-width="1.2"/>
<line x1="761.3" y1="816.2" x2="766" y2="816.2" stroke="#c42434" stroke-width="1.2"/>
<text x="777.07" y="688.07" font-size="34.18" textLength="47.55" lengthAdjust="spacingAndGlyphs" fill="#111">200</text>
<text x="774.67" y="746.80" font-size="35.52" textLength="50.87" lengthAdjust="spacingAndGlyphs" fill="#111">242</text>
<text x="779.67" y="811.30" font-size="35.52" textLength="50.87" lengthAdjust="spacingAndGlyphs" fill="#111">242</text>
<rect x="769.6" y="665.2" width="5" height="37" stroke="#5fd8e0" stroke-width="1" fill="#a9f1f4"/>
<rect x="769.6" y="763.4" width="5" height="38" stroke="#5fd8e0" stroke-width="1" fill="#a9f1f4"/>
<ellipse cx="772.5" cy="701" rx="3.6" ry="2.8" fill="#2ad8ea"/>
<ellipse cx="772.5" cy="764" rx="3.6" ry="2.8" fill="#2ad8ea"/>
</svg></body></html>
